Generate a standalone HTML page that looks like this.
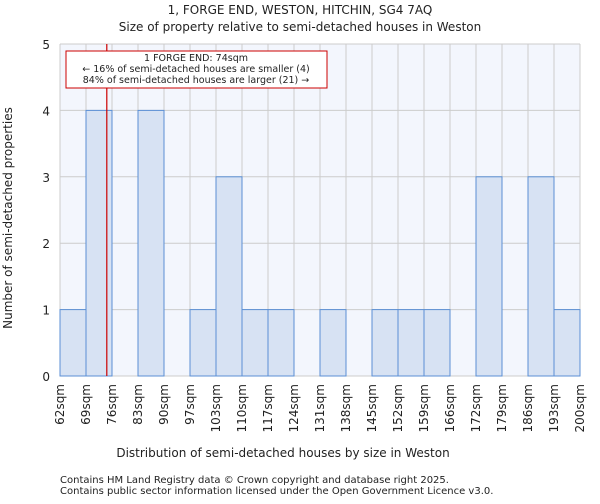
<!DOCTYPE html>
<html><head><meta charset="utf-8"><style>
body{margin:0;background:#fff;font-family:"DejaVu Sans","Liberation Sans",sans-serif;}
svg text{font-family:"DejaVu Sans","Liberation Sans",sans-serif;fill:#222;}
</style></head><body>
<svg id="c" width="600" height="500" xmlns="http://www.w3.org/2000/svg">
<text x="300" y="14" font-size="12" text-anchor="middle">1, FORGE END, WESTON, HITCHIN, SG4 7AQ</text>
<text x="300" y="31" font-size="12" text-anchor="middle">Size of property relative to semi-detached houses in Weston</text>
<rect x="60" y="44" width="520" height="332" fill="#f3f6fd"/>
<g id="grid"></g><g id="bars"></g><g id="axes"></g>
<text x="283" y="457" font-size="12" text-anchor="middle">Distribution of semi-detached houses by size in Weston</text>
<text transform="translate(12,218) rotate(-90)" font-size="12" text-anchor="middle">Number of semi-detached properties</text>
<text x="60" y="483" font-size="10">Contains HM Land Registry data © Crown copyright and database right 2025.</text>
<text x="60" y="494" font-size="10">Contains public sector information licensed under the Open Government Licence v3.0.</text>
</svg>
<script>
const tickLabels=["62sqm","69sqm","76sqm","83sqm","90sqm","97sqm","103sqm","110sqm","117sqm","124sqm","131sqm","138sqm","145sqm","152sqm","159sqm","166sqm","172sqm","179sqm","186sqm","193sqm","200sqm"];
const counts=[1,4,0,4,0,1,3,1,1,0,1,0,1,1,1,0,3,0,3,1];
const yTicks=[0,1,2,3,4,5];
const propertyBin=1.8;
const NS="http://www.w3.org/2000/svg";
const L=60,R=580,T=44,B=376,yMax=5,n=counts.length;
const xS=i=>L+i*(R-L)/n;
const yS=v=>B-v*(B-T)/yMax;
function mk(tag,attrs,parent,text){const e=document.createElementNS(NS,tag);for(const k in attrs)e.setAttribute(k,attrs[k]);if(text!==undefined)e.textContent=text;document.getElementById(parent).appendChild(e);return e;}
for(let i=0;i<=n;i++){const l=mk('line',{x1:xS(i),x2:xS(i),y1:T,y2:B,stroke:'#cccccc','stroke-width':1},'grid');

}
yTicks.forEach(v=>{const l=mk('line',{x1:L,x2:R,y1:yS(v),y2:yS(v),stroke:'#cccccc','stroke-width':1},'grid');


const t=mk('text',{x:L-10,y:yS(v)+5,'font-size':12,'text-anchor':'end'},'axes',v);

});
counts.forEach((c,i)=>{if(c<=0)return;const r=mk('rect',{x:xS(i),y:yS(c),width:xS(i+1)-xS(i),height:B-yS(c),fill:'#d7e2f3',stroke:'#5b8fd4','stroke-width':1},'bars');

});
tickLabels.forEach((s,i)=>{const x=xS(i);const t=mk('text',{x:x+4,y:B+8,'font-size':12,'text-anchor':'end',transform:`rotate(-90 ${x+4} ${B+8})`},'axes',s);

});
const px=xS(propertyBin);
const pl=mk('line',{x1:px,x2:px,y1:T,y2:B,stroke:'#cc0000','stroke-width':1.2},'axes');


const box=mk('rect',{x:66,y:51,width:261,height:37,fill:'#fff',stroke:'#cc0000','stroke-width':1},'axes');


[["1 FORGE END: 74sqm",61],["← 16% of semi-detached houses are smaller (4)",72],["84% of semi-detached houses are larger (21) →",83]].forEach(([s,y])=>{const t=mk('text',{x:196,y:y,'font-size':9.5,'text-anchor':'middle'},'axes',s);

});
</script>
</body></html>
